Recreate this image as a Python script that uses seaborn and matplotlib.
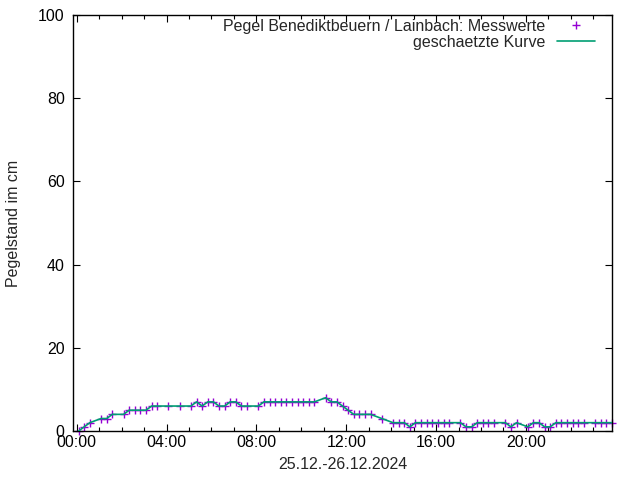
import matplotlib
matplotlib.use("Agg")
import matplotlib.pyplot as plt
import matplotlib.dates as mdates
from matplotlib.lines import Line2D
import pandas as pd
import seaborn as sns

# ---- data ----
day = "2024-12-25"
times = ["00:05", "00:20", "00:35", "01:05", "01:20", "01:35", "02:05", "02:20",
         "02:35", "02:50", "03:05", "03:20", "03:35", "04:05", "04:35", "05:05",
         "05:20", "05:35", "05:50", "06:05", "06:20", "06:35", "06:50", "07:05",
         "07:20", "07:35", "08:05", "08:20", "08:35", "08:50", "09:05", "09:20",
         "09:35", "09:50", "10:05", "10:20", "10:35", "11:05", "11:20", "11:35",
         "11:50", "12:05", "12:20", "12:35", "12:50", "13:05", "13:35", "14:05",
         "14:20", "14:35", "14:50", "15:05", "15:20", "15:35", "15:50", "16:05",
         "16:20", "16:35", "17:05", "17:20", "17:35", "17:50", "18:05", "18:20",
         "18:35", "19:05", "19:20", "19:35", "20:05", "20:20", "20:35", "20:50",
         "21:05", "21:20", "21:35", "21:50", "22:05", "22:20", "22:35", "23:05",
         "23:20", "23:35", "23:50"]
values = [0, 1, 2, 3, 3, 4, 4, 5,
          5, 5, 5, 6, 6, 6, 6, 6,
          7, 6, 7, 7, 6, 6, 7, 7,
          6, 6, 6, 7, 7, 7, 7, 7,
          7, 7, 7, 7, 7, 8, 7, 7,
          6, 5, 4, 4, 4, 4, 3, 2,
          2, 2, 1, 2, 2, 2, 2, 2,
          2, 2, 2, 1, 1, 2, 2, 2,
          2, 2, 1, 2, 1, 2, 2, 1,
          1, 2, 2, 2, 2, 2, 2, 2,
          2, 2, 2]
curve_values = values

label_points = "Pegel Benediktbeuern / Lainbach: Messwerte"
label_curve = "geschaetzte Kurve"
x_label = "25.12.-26.12.2024"
y_label = "Pegelstand im cm"
y_ticks = [0, 20, 40, 60, 80, 100]

df = pd.DataFrame({
    "Zeit": pd.to_datetime([f"{day} {t}" for t in times]),
    "Pegel": values,
    "Kurve": curve_values,
})

sns.set_style("ticks")
plt.rcParams["font.family"] = ["Liberation Sans", "DejaVu Sans"]
FS = 11.5

fig = plt.figure(figsize=(6.4, 4.8), dpi=100)
ax = fig.add_axes([73 / 640, 1 - 431 / 480, (612 - 73) / 640, (431 - 15) / 480])

c_pts = "#9400d3"
c_line = "#009e73"

sns.scatterplot(data=df, x="Zeit", y="Pegel", marker="+", s=36, color=c_pts,
                linewidth=1.0, ax=ax, legend=False, zorder=2, clip_on=False)
sns.lineplot(data=df, x="Zeit", y="Kurve", color=c_line, linewidth=1.2,
             ax=ax, legend=False, zorder=3)

end = df["Zeit"].iloc[-1]
ax.set_xlim(end - pd.Timedelta(hours=24), end)
ax.set_ylim(0, 100)
ax.set_yticks(y_ticks)
ax.xaxis.set_major_locator(mdates.HourLocator(byhour=range(0, 24, 4)))
ax.xaxis.set_minor_locator(mdates.HourLocator())
ax.xaxis.set_major_formatter(mdates.DateFormatter("%H:%M"))

ax.tick_params(which="both", direction="in", top=True, right=True,
               labelsize=FS, colors="black", width=0.8)
ax.tick_params(which="major", length=5)
ax.tick_params(axis="x", which="major", pad=3)
ax.tick_params(axis="y", which="major", pad=6)
ax.tick_params(which="minor", length=3)
for s in ax.spines.values():
    s.set_visible(True)
    s.set_color("black")
    s.set_linewidth(1.0)

ax.set_xlabel(x_label, fontsize=FS, labelpad=5)
ax.set_ylabel(y_label, fontsize=FS, labelpad=12)

h1 = Line2D([], [], ls="none", marker="+", color=c_pts, markersize=6, markeredgewidth=1.0)
h2 = Line2D([], [], color=c_line, linewidth=1.2)
common = dict(loc="upper right", frameon=False, markerfirst=False, fontsize=FS,
              handlelength=2.4, handletextpad=0.7, borderpad=0, borderaxespad=0,
              bbox_transform=fig.transFigure)
leg1 = ax.legend([h1], [label_points], bbox_to_anchor=(595 / 640, 1 - 19 / 480), **common)
ax.add_artist(leg1)
leg2 = ax.legend([h2], [label_curve], bbox_to_anchor=(595 / 640, 1 - 35 / 480), **common)

fig.savefig("out.png", dpi=100)
